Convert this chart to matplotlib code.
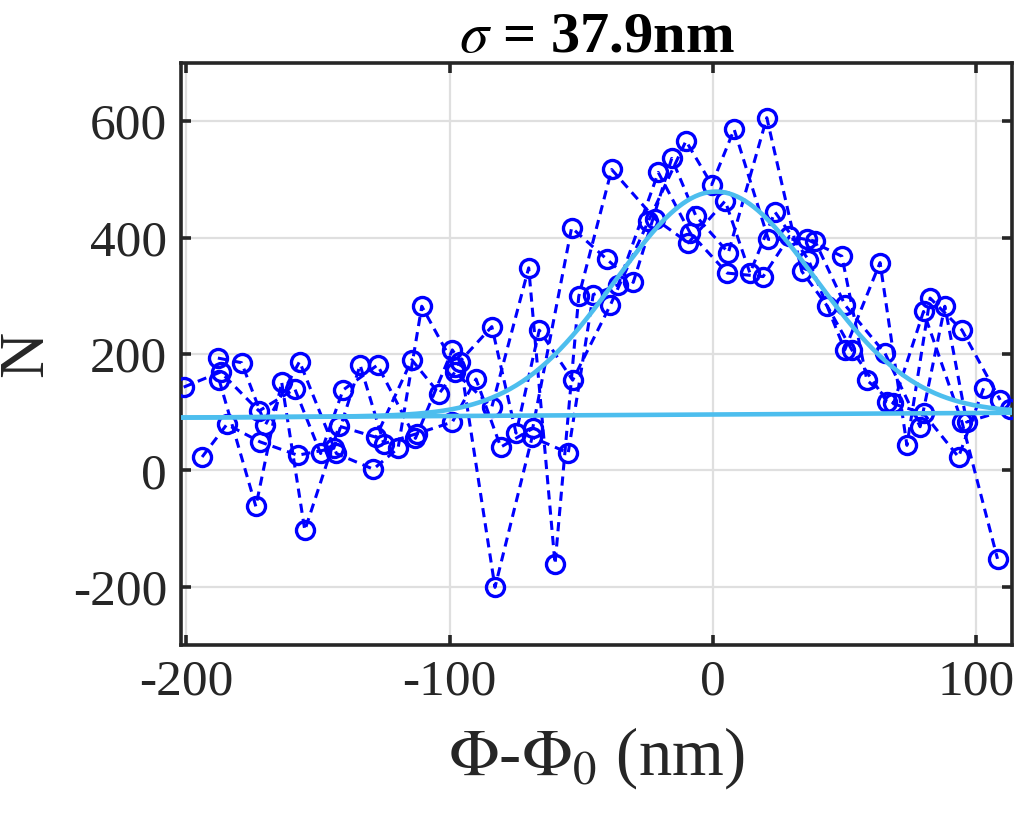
import numpy as np
import matplotlib
matplotlib.use("Agg")
import matplotlib.pyplot as plt

plt.rcParams['font.family'] = ['Liberation Serif', 'DejaVu Serif']
plt.rcParams['mathtext.fontset'] = 'stix'

# four scans of the same profile (x in nm, counts N)
scan1_x = [-201, -187, -172.4, -158.8, -149, -140.5, -127.4, -113, -99, -96, -82.8, -68.7, -55,
           -45.5, -36, -20.8, -8.7, 5.4, 19, 29, 38.7, 50.1, 65.3, 78.6, 88, 96.3, 112.8]
scan1_y = [143, 169, 102, 140, 29, 138, 181, 55, 207, 187, -201, 57, 30,
           302, 319, 512, 408, 339, 333, 402, 394, 284, 201, 75, 282, 83, 106]

scan2_x = [-194, -184.6, -172, -157.7, -144, -134, -125, -112.5, -99, -90, -80.6, -68.5, -53.7,
           -40.4, -30.3, -15.7, -6.5, 5.8, 20.4, 33.7, 43.4, 52.7, 66, 79.9, 93.2, 102.7]
scan2_y = [23, 79, 49, 26, 38, 181, 46, 63, 83, 157, 40, 72, 417,
           363, 323, 536, 437, 374, 606, 342, 282, 207, 118, 98, 23, 141]

scan3_x = [-188, -179, -170, -157, -143, -129, -119.6, -110.6, -98, -84, -74.8, -66, -53.3,
           -39, -24.6, -10.3, -0.5, 8, 21, 35.6, 48.9, 58.4, 68.5, 79.9, 94.5, 108]
scan3_y = [193, 185, 78, 187, 29, 2, 38, 282, 178, 247, 64, 241, 155,
           284, 428, 566, 491, 586, 397, 397, 368, 155, 115, 273, 83, -152]

scan4_x = [-187.5, -173.6, -163.8, -155, -142, -128, -114.4, -104, -98, -84, -70, -60, -51,
           -38.5, -22, -9.4, 4.6, 14, 23.5, 36.2, 50, 63.4, 73.6, 82.4, 94.5, 109]
scan4_y = [155, -62, 152, -103, 76, 57, 190, 132, 169, 109, 348, -161, 299,
           517, 432, 391, 463, 339, 444, 362, 207, 357, 43, 296, 241, 121]

# gaussian fit on a sloped background
fit_amp = 383
fit_center = 1.0
fit_sigma = 37.9
bg_offset = 96
bg_slope = 0.026

x_min, x_max = -202, 113.5

fig = plt.figure(figsize=(10.21, 8.16), dpi=100)
ax = fig.add_axes([0.1773, 0.2096, 0.9912 - 0.1773, 0.9228 - 0.2096])

for sx, sy in [(scan1_x, scan1_y), (scan2_x, scan2_y), (scan3_x, scan3_y), (scan4_x, scan4_y)]:
    ax.plot(sx, sy, color='#0000ff', linestyle=(0, (3, 2)), linewidth=2.2,
            marker='o', markersize=13, markerfacecolor='none', markeredgewidth=2.4, zorder=3)

xf = np.linspace(x_min, x_max, 400)
bg = bg_offset + bg_slope * xf
ax.plot(xf, bg, color='#4dbeee', linewidth=3.3, zorder=4)
ax.plot(xf, bg + fit_amp * np.exp(-(xf - fit_center) ** 2 / (2 * fit_sigma ** 2)),
        color='#4dbeee', linewidth=3.3, zorder=4)

ax.set_xlim(x_min, x_max)
ax.set_ylim(-300, 700)
ax.set_xticks([-200, -100, 0, 100])
ax.set_yticks([-200, 0, 200, 400, 600])
ax.set_xticklabels(['-200', '-100', '0', '100'])
ax.set_yticklabels(['-200', '0', '200', '400', '600'])

ax.grid(True, color='#dfdfdf', linewidth=1.6)
ax.set_axisbelow(True)
for s in ax.spines.values():
    s.set_linewidth(2.6)
    s.set_color('#262626')
ax.tick_params(direction='in', length=7, width=2.6, colors='#262626', labelsize=37,
               top=True, right=True, pad=10)

ax.set_xlabel(r'$\Phi$-$\Phi_0$ (nm)', fontsize=48, color='#262626', labelpad=14)
ax.set_ylabel('N', fontsize=46, color='#262626', labelpad=12)
ax.set_title(r'$\sigma$ = 37.9nm', fontsize=42, fontweight='bold', pad=8)

fig.savefig('out.png', dpi=100)
